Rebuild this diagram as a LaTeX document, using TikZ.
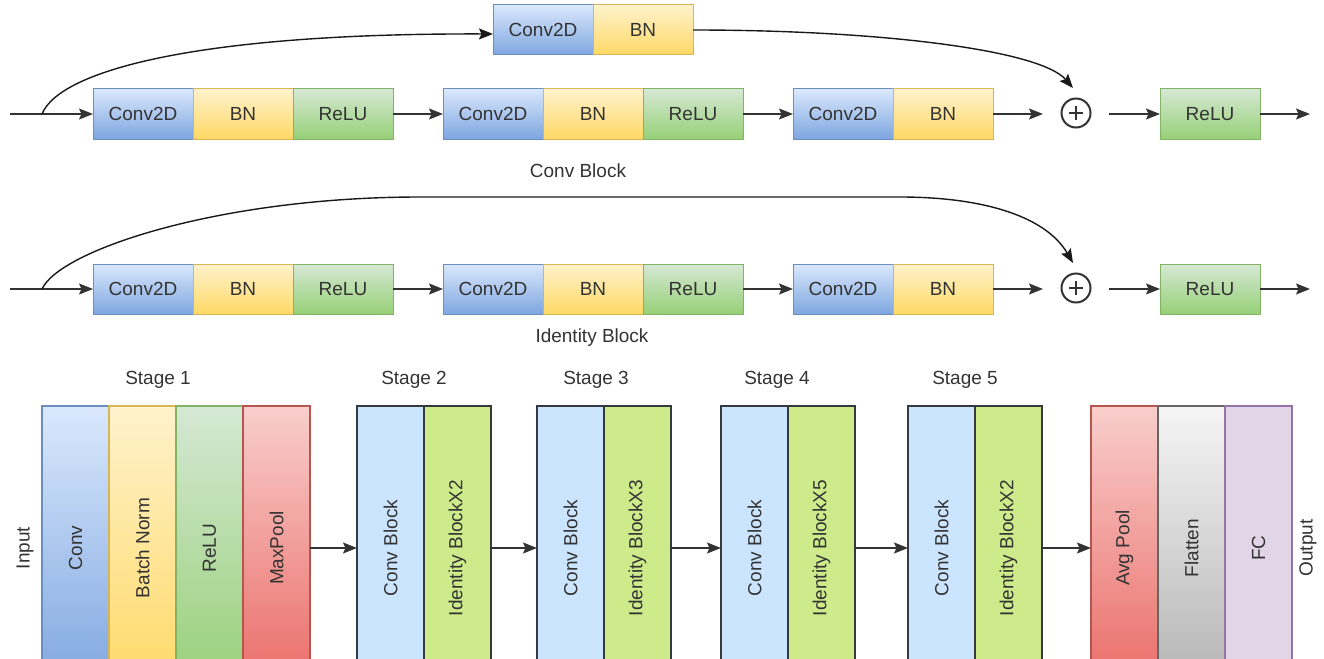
\documentclass[tikz,border=0pt]{standalone}
\usepackage{fontspec}
\setmainfont{Liberation Sans}
\usepackage{graphicx}
\usepackage{tikz}
\usetikzlibrary{arrows.meta,positioning}

\definecolor{convtop}{HTML}{DAE8FC}
\definecolor{convbot}{HTML}{7EA6E0}
\definecolor{convline}{HTML}{6C8EBF}
\definecolor{bntop}{HTML}{FFF2CC}
\definecolor{bnbot}{HTML}{FFD966}
\definecolor{bnline}{HTML}{D6B656}
\definecolor{relutop}{HTML}{D5E8D4}
\definecolor{relubot}{HTML}{97D077}
\definecolor{reluline}{HTML}{82B366}
\definecolor{pooltop}{HTML}{F8CECC}
\definecolor{poolbot}{HTML}{EA6B66}
\definecolor{poolline}{HTML}{B85450}
\definecolor{flattop}{HTML}{F5F5F5}
\definecolor{flatbot}{HTML}{B3B3B3}
\definecolor{flatline}{HTML}{666666}
\definecolor{fcfill}{HTML}{E1D5E7}
\definecolor{fcline}{HTML}{9673A6}
\definecolor{cbfill}{HTML}{CCE5FF}
\definecolor{idfill}{HTML}{CDEB8B}
\definecolor{stageline}{HTML}{36393D}
\definecolor{txt}{HTML}{333333}

\tikzset{
  lbl/.style={font=\fontsize{19}{22}\selectfont, text=txt},
  layer/.style={lbl, draw, line width=1pt, inner sep=0pt, outer sep=0pt,
    minimum width=100pt, minimum height=50pt},
  convl/.style={layer, draw=convline, top color=convtop, bottom color=convbot},
  bnl/.style={layer, draw=bnline, top color=bntop, bottom color=bnbot},
  relul/.style={layer, draw=reluline, top color=relutop, bottom color=relubot},
  addnode/.style={circle, draw=txt, line width=2pt, minimum size=29pt, inner sep=0pt,
    path picture={
      \draw[line width=2pt, txt]
        ([xshift=-7pt]path picture bounding box.center) -- ([xshift=7pt]path picture bounding box.center)
        ([yshift=-7pt]path picture bounding box.center) -- ([yshift=7pt]path picture bounding box.center);
    }},
  col/.style={lbl, draw, line width=1.2pt, inner sep=0pt, outer sep=0pt,
    minimum width=67pt, minimum height=284pt},
  flow/.style={->, line width=1.5pt, draw=black!80},
  skip/.style={->, line width=1.4pt, draw=black!90},
}

\begin{document}
\begin{tikzpicture}[x=1pt, y=-1pt, >={Stealth[length=14pt,width=11pt,inset=2.5pt]}]
    \useasboundingbox (0,0) rectangle (1324,658);
    \clip (0,0) rectangle (1324,658);

    % Conv block and identity block rows
    \foreach \r/\y in {c/114, i/289}{
      \coordinate (\r in) at (10,\y);
      \coordinate (\r split) at (42,\y);
      \node[convl] (\r a1) at (143,\y) {Conv2D};
      \node[bnl, right=0pt of \r a1] (\r a2) {BN};
      \node[relul, right=0pt of \r a2] (\r a3) {ReLU};
      \node[convl] (\r b1) at (493,\y) {Conv2D};
      \node[bnl, right=0pt of \r b1] (\r b2) {BN};
      \node[relul, right=0pt of \r b2] (\r b3) {ReLU};
      \node[convl] (\r c1) at (843,\y) {Conv2D};
      \node[bnl, right=0pt of \r c1] (\r c2) {BN};
      \node[addnode] (\r add) at (1076,\y-1) {};
      \coordinate (\r addin) at (1043,\y);
      \coordinate (\r addout) at (1109,\y);
      \coordinate (\r addtop) at (1073,\y-26);
      \node[relul] (\r out) at (1210,\y) {ReLU};
      \coordinate (\r end) at (1310,\y);

      \draw[flow] (\r in) -- (\r a1);
      \draw[flow] (\r a3) -- (\r b1);
      \draw[flow] (\r b3) -- (\r c1);
      \draw[flow] (\r c2) -- (\r addin);
      \draw[flow] (\r addout) -- (\r out);
      \draw[flow] (\r out) -- (\r end);
    }
    \node[lbl] (convlbl) at (578,171) {Conv Block};
    \node[lbl] (idlbl) at (592,338) {Identity Block};

    % Shortcut with projection
    \node[convl] (cs1) at (543,30) {Conv2D};
    \node[bnl, right=0pt of cs1] (cs2) {BN};
    \draw[skip] (csplit) .. controls (60,70) and (200,33) .. ([yshift=-4pt]cs1.west);
    \draw[skip] (cs2.east) .. controls (880,30) and (1040,50) .. (caddtop);

    % Identity shortcut
    \draw[skip] (isplit) .. controls (60,250) and (220,197) .. (420,197)
      -- (900,197) .. controls (980,197) and (1045,215) .. (iaddtop);

    % Stage 1
    \node[lbl, rotate=90] (inlbl) at (25,548) {Input};
    \node[col, draw=convline, top color=convtop, bottom color=convbot] (s1a) at (75.5,548) {\rotatebox{90}{Conv}};
    \node[col, draw=bnline, top color=bntop, bottom color=bnbot, right=0pt of s1a] (s1b) {\rotatebox{90}{Batch Norm}};
    \node[col, draw=reluline, top color=relutop, bottom color=relubot, right=0pt of s1b] (s1c) {\rotatebox{90}{ReLU}};
    \node[col, draw=poolline, top color=pooltop, bottom color=poolbot, right=0pt of s1c] (s1d) {\rotatebox{90}{MaxPool}};
    \node[lbl] (st1lbl) at (158,380) {Stage 1};

    % Stages 2 to 5
    \foreach \s/\x/\n/\lx in {2/390.5/2/414, 3/570.5/3/596, 4/754.5/5/777, 5/941.5/2/965}{
      \node[col, draw=stageline, fill=cbfill] (st\s a) at (\x,548) {\rotatebox{90}{Conv Block}};
      \node[col, draw=stageline, fill=idfill, right=0pt of st\s a] (st\s b) {\rotatebox{90}{Identity BlockX\n}};
      \node[lbl] (st\s lbl) at (\lx,380) {Stage \s};
    }

    % Head
    \node[col, draw=poolline, top color=pooltop, bottom color=poolbot] (hd1) at (1124.5,548) {\rotatebox{90}{Avg Pool}};
    \node[col, draw=flatline, top color=flattop, bottom color=flatbot, right=0pt of hd1] (hd2) {\rotatebox{90}{Flatten}};
    \node[col, draw=fcline, fill=fcfill, right=0pt of hd2] (hd3) {\rotatebox{90}{FC}};
    \node[lbl, rotate=90] (outlbl) at (1308,548) {Output};

    \draw[flow] (s1d) -- (st2a);
    \draw[flow] (st2b) -- (st3a);
    \draw[flow] (st3b) -- (st4a);
    \draw[flow] (st4b) -- (st5a);
    \draw[flow] (st5b) -- (hd1);
\end{tikzpicture}
\end{document}
